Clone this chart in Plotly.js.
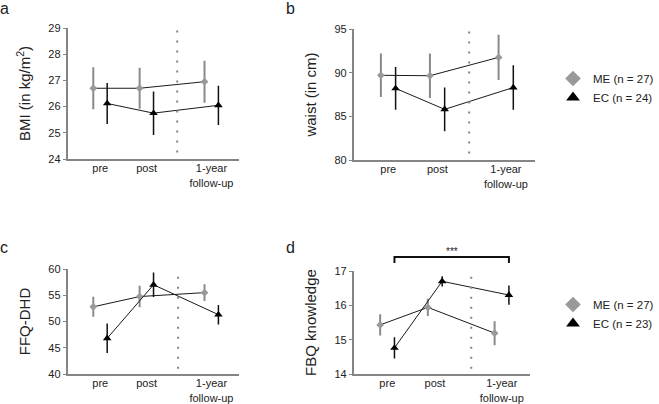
<!DOCTYPE html>
<html>
<head>
<meta charset="utf-8">
<script src="https://cdn.plot.ly/plotly-3.0.1.min.js"></script>
<style>
  html, body { margin: 0; padding: 0; background: #fff; }
  #chart { width: 659px; height: 404px; }
</style>
</head>
<body>
<div id="chart"></div>
<script>
const TIMEPOINTS = ["pre", "post", "1-year<br>follow-up"];
const TIME_X = [1, 2, 3.4];
const GROUP_OFFSET = 0.15;

const bmiME = [26.7, 26.7, 26.95];
const bmiMEErr = [0.8, 0.78, 0.8];
const bmiEC = [26.12, 25.75, 26.05];
const bmiECErr = [0.78, 0.83, 0.75];

const waistME = [89.7, 89.65, 91.75];
const waistMEErr = [2.5, 2.55, 2.6];
const waistEC = [88.2, 85.8, 88.3];
const waistECErr = [2.45, 2.5, 2.55];

const ffqME = [52.8, 54.75, 55.5];
const ffqMEErr = [1.9, 2.05, 1.6];
const ffqEC = [46.8, 57.0, 51.3];
const ffqECErr = [2.8, 2.35, 1.85];

const fbqME = [15.43, 15.94, 15.19];
const fbqMEErr = [0.31, 0.25, 0.35];
const fbqEC = [14.76, 16.7, 16.3];
const fbqECErr = [0.31, 0.15, 0.28];

const ME_COLOR = "#999999";
const EC_COLOR = "#000000";
const AXIS_COLOR = "#858585";
const FONT = "Liberation Sans, Arial, sans-serif";

const panels = [
  { letter: "a", ax: "", title: "BMI (in kg/m<sup>2</sup>)", range: [24, 29], dtick: 1,
    me: bmiME, meErr: bmiMEErr, ec: bmiEC, ecErr: bmiECErr,
    legend: "legend", ecName: "EC (n = 24)", divider: 2.66 },
  { letter: "b", ax: "2", title: "waist (in cm)", range: [80, 95], dtick: 5,
    me: waistME, meErr: waistMEErr, ec: waistEC, ecErr: waistECErr,
    legend: null, divider: 2.65 },
  { letter: "c", ax: "3", title: "FFQ-DHD", range: [40, 60], dtick: 5,
    me: ffqME, meErr: ffqMEErr, ec: ffqEC, ecErr: ffqECErr,
    legend: "legend2", ecName: "EC (n = 23)", divider: 2.68 },
  { letter: "d", ax: "4", title: "FBQ knowledge", range: [14, 17], dtick: 1,
    me: fbqME, meErr: fbqMEErr, ec: fbqEC, ecErr: fbqECErr,
    legend: null, divider: 2.76 },
];

// pixel boxes of the four plot areas, converted to paper fractions below
const W = 659, H = 404;
const boxes = [
  { l: 68, r: 240, t: 28, b: 159 },
  { l: 355, r: 537, t: 29, b: 160 },
  { l: 68, r: 240, t: 269, b: 374 },
  { l: 355, r: 532, t: 271, b: 374 },
];

function shifted(offset) {
  return TIME_X.map((x) => x + offset);
}

function groupTraces(panel, group) {
  const isME = group === "ME";
  const xs = shifted(isME ? -GROUP_OFFSET : GROUP_OFFSET);
  const ys = isME ? panel.me : panel.ec;
  const errs = isME ? panel.meErr : panel.ecErr;
  const color = isME ? ME_COLOR : EC_COLOR;
  const axes = { xaxis: "x" + panel.ax, yaxis: "y" + panel.ax };
  const line = {
    type: "scatter", mode: "lines", x: xs, y: ys, ...axes,
    line: { color: "#1a1a1a", width: 1 },
    showlegend: false, hoverinfo: "skip",
  };
  const points = {
    type: "scatter", mode: "markers", x: xs, y: ys, ...axes,
    name: isME ? "ME (n = 27)" : panel.ecName,
    marker: {
      symbol: isME ? "diamond" : "triangle-up",
      size: isME ? 6 : 7.5,
      color: color,
      line: { width: 0 },
    },
    error_y: {
      type: "data", array: errs, visible: true,
      color: isME ? "#8a8a8a" : "#111",
      thickness: isME ? 2 : 1.5, width: 0,
    },
    showlegend: Boolean(panel.legend),
    legend: panel.legend || "legend",
  };
  return [line, points];
}

const traces = [];
panels.forEach((p) => {
  traces.push(...groupTraces(p, "ME"));
  traces.push(...groupTraces(p, "EC"));
});

// legends sit far enough left that they fit inside the paper (no margin push)
const legendStyle = {
  xanchor: "left", yanchor: "top",
  font: { size: 11.5, color: "#222" }, itemsizing: "constant",
  bgcolor: "rgba(0,0,0,0)",
};

const layout = {
  width: W, height: H,
  margin: { l: 0, r: 0, t: 0, b: 0 },
  paper_bgcolor: "#fff",
  plot_bgcolor: "#fff",
  font: { family: FONT, color: "#222", size: 11 },
  showlegend: true,
  legend: { ...legendStyle, x: 555 / W, y: 1 - 64 / H },
  legend2: { ...legendStyle, x: 555 / W, y: 1 - 290 / H },
  shapes: [],
  annotations: [],
};

panels.forEach((p, i) => {
  const box = boxes[i];
  layout["xaxis" + p.ax] = {
    domain: [box.l / W, box.r / W],
    anchor: "y" + p.ax,
    range: [0.3, 4.0],
    tickvals: TIME_X,
    ticktext: TIMEPOINTS,
    ticks: "",
    ticklabelstandoff: -2,
    showgrid: false, zeroline: false,
    showline: true, linecolor: AXIS_COLOR, linewidth: 2,
    tickfont: { size: 11, color: "#222" },
    fixedrange: true,
  };
  layout["yaxis" + p.ax] = {
    domain: [1 - box.b / H, 1 - box.t / H],
    anchor: "x" + p.ax,
    range: p.range,
    dtick: p.dtick,
    ticks: "outside", ticklen: 3, tickcolor: AXIS_COLOR, tickwidth: 1,
    showgrid: false, zeroline: false,
    showline: true, linecolor: AXIS_COLOR, linewidth: 2,
    tickfont: { size: 11, color: "#222" },
    title: { text: p.title, font: { size: 15, color: "#222" }, standoff: 14 },
    fixedrange: true,
  };
  layout.shapes.push({
    type: "line", xref: "x" + p.ax, yref: "y" + p.ax + " domain",
    x0: p.divider, x1: p.divider, y0: 0.05, y1: 1,
    line: { color: AXIS_COLOR, width: 2, dash: "2px,8px" },
  });
  layout.annotations.push({
    text: p.letter, xref: "paper", yref: "paper",
    x: (i % 2 === 0 ? -2 : 285) / W, y: 1 - (i < 2 ? -2 : 237) / H,
    xanchor: "left", yanchor: "top", showarrow: false,
    font: { size: 16, color: "#222" },
  });
});

// significance bracket over panel d, spanning the EC points pre -> follow-up
const bracketX = [TIME_X[0] + GROUP_OFFSET, TIME_X[2] + GROUP_OFFSET];
const bracketTop = 1 - 257 / H;
const bracketFoot = 1 - 263 / H;
layout.shapes.push({
  type: "path", xref: "x4", yref: "paper",
  path: `M ${bracketX[0]},${bracketFoot} L ${bracketX[0]},${bracketTop} L ${bracketX[1]},${bracketTop} L ${bracketX[1]},${bracketFoot}`,
  line: { color: "#111", width: 2 },
});
layout.annotations.push({
  text: "***", xref: "x4", yref: "paper",
  x: (bracketX[0] + bracketX[1]) / 2, y: 1 - 251 / H,
  yanchor: "middle", showarrow: false,
  font: { size: 10, color: "#222" },
});

Plotly.newPlot("chart", traces, layout, { staticPlot: true, displayModeBar: false });
</script>
</body>
</html>
